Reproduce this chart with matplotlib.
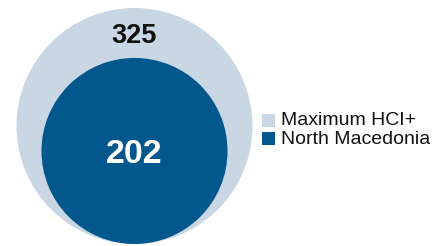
import matplotlib
matplotlib.use("Agg")
import matplotlib.pyplot as plt
from matplotlib.patches import Circle, Rectangle
import numpy as np

plt.rcParams['font.family'] = ['Liberation Sans', 'DejaVu Sans']

labels = ["Maximum HCI+", "North Macedonia"]
values = [325, 202]
colors = ["#c9d6e3", "#02578c"]
text_colors = ["#111111", "#ffffff"]

W, H = 439, 246
fig = plt.figure(figsize=(W / 100, H / 100), dpi=100)
ax = fig.add_axes([0, 0, 1, 1])
ax.set_xlim(0, W)
ax.set_ylim(H, 0)
ax.set_aspect('equal')
ax.axis('off')

max_r = 118
cx = 134.5
bottom = 244
radii = [max_r * np.sqrt(v / max(values)) for v in values]

for r, c in zip(radii, colors):
    ax.add_patch(Circle((cx, bottom - r), r, facecolor=c, edgecolor='none'))

ax.text(cx, 36, str(values[0]), ha='center', va='center', fontsize=19.5,
        fontweight='bold', color=text_colors[0])
ax.text(cx, bottom - radii[1] + 4, str(values[1]), ha='center', va='center', fontsize=24.5,
        fontweight='bold', color=text_colors[1])

# legend
sq = 13
for i, (lab, c) in enumerate(zip(labels, colors)):
    y0 = 113.5 + i * 18.5
    ax.add_patch(Rectangle((262, y0), sq, sq, facecolor=c, edgecolor='none'))
    ax.text(281, y0 + sq / 2 + 0.5, lab, ha='left', va='center', fontsize=14, color='#111111')

fig.savefig("out.png", dpi=100)
